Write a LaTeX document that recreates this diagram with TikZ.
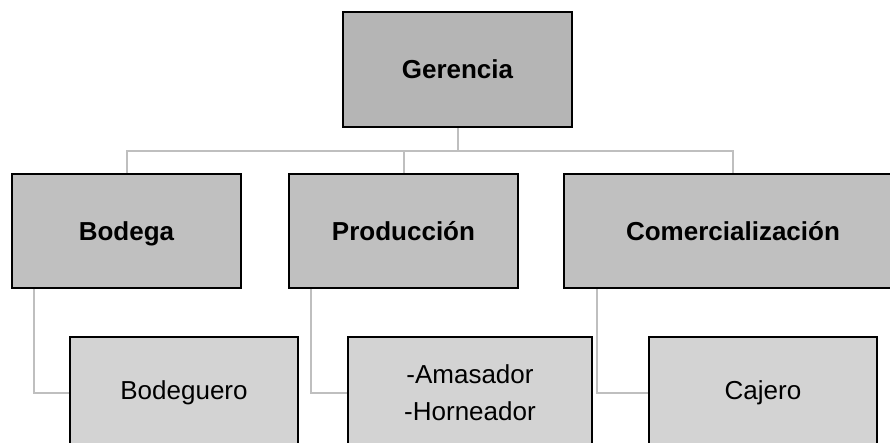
\documentclass[tikz,border=0pt]{standalone}
\usepackage{fontspec}
\setmainfont{Liberation Sans}
\usetikzlibrary{calc}
\definecolor{headgray}{RGB}{181,181,181}
\definecolor{areagray}{RGB}{192,192,192}
\definecolor{staffgray}{RGB}{211,211,211}
\definecolor{linkgray}{RGB}{191,191,191}
\begin{document}
\begin{tikzpicture}[x=0.75pt, y=-0.75pt,
	box/.style={draw=black, line width=1.5pt, rectangle, inner sep=0pt,
		font=\fontsize{19.5}{27.75}\selectfont, align=center},
	head/.style={box, fill=headgray, font=\fontsize{19.5}{27.75}\selectfont\bfseries,
		text height=18pt, text depth=4pt,
		minimum width=229*0.75pt, minimum height=115*0.75pt},
	area/.style={box, fill=areagray, font=\fontsize{19.5}{27.75}\selectfont\bfseries,
		text height=18pt, text depth=4pt,
		minimum width=229*0.75pt, minimum height=114*0.75pt},
	staff/.style={box, fill=staffgray,
		minimum width=228*0.75pt, minimum height=112*0.75pt},
	link/.style={draw=linkgray, line width=1.5pt}]
	\clip (0,0) rectangle (890,443);
	\node[head] (ger) at (457.5, 69.5) {Gerencia};
	\node[area] (bod) at (126.5, 231) {Bodega};
	\node[area] (pro) at (403.5, 231) {Producción};
	\node[area, minimum width=338*0.75pt] (com) at (733, 231) {Comercialización};
	\node[staff] (bodq) at (184, 393) {Bodeguero};
	\node[staff, minimum width=244*0.75pt] (amas) at (470, 393) {-Amasador\\-Horneador};
	\node[staff] (caj) at (763, 393) {Cajero};
	% ramas
	\draw[link] (ger.south) -- ++(0,23) coordinate (bus);
	\draw[link] (bod.north) |- (bus) -| (com.north);
	\draw[link] (pro.north) -- (pro.north |- bus);
	\draw[link] ($(bod.south west)!0.1!(bod.south east)$) |- (bodq.west);
	\draw[link] ($(pro.south west)!0.1!(pro.south east)$) |- (amas.west);
	\draw[link] ($(com.south west)!0.1!(com.south east)$) |- (caj.west);
\end{tikzpicture}
\end{document}
